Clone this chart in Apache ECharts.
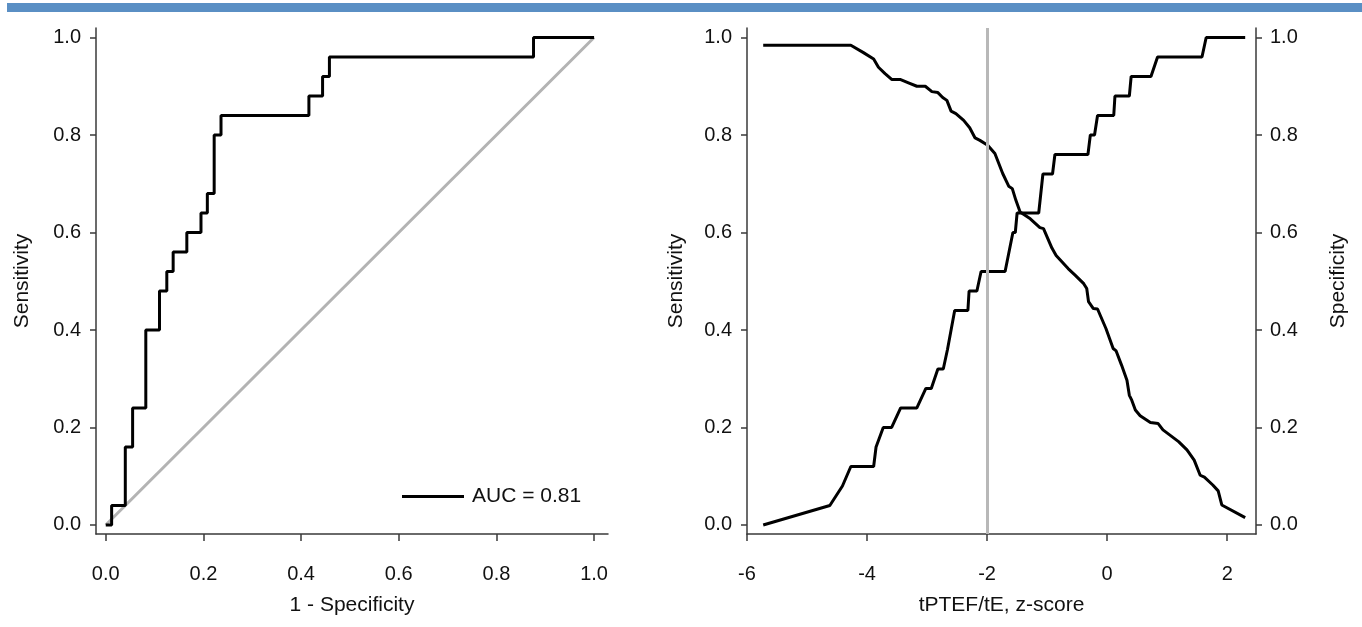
<!DOCTYPE html>
<html>
<head>
<meta charset="utf-8">
<script src="https://cdn.jsdelivr.net/npm/echarts@6/dist/echarts.min.js"></script>
<style>
html,body{margin:0;padding:0;background:#fff;}
#c{width:1362px;height:627px;}
</style>
</head>
<body>
<div id="c"></div>
<script>
// ---- Data ----
const tickLabelsProb = [0, 0.2, 0.4, 0.6, 0.8, 1.0];
const tickLabelsZ = [-6, -4, -2, 0, 2];

// ROC curve (1 - specificity, sensitivity), step points
const rocFpr = [0, 0.012, 0.04, 0.055, 0.082, 0.11, 0.125, 0.138, 0.166, 0.195, 0.208, 0.222, 0.236, 0.416, 0.444, 0.458, 0.876, 1.0];
const rocTpr = [0, 0.04, 0.16, 0.24, 0.40, 0.48, 0.52, 0.56, 0.60, 0.64, 0.68, 0.80, 0.84, 0.88, 0.92, 0.96, 1.0, 1.0];
const diagX = [0, 1];
const diagY = [0, 1];
const aucLabel = 'AUC = 0.81';

// Sensitivity vs z-score
const sensZ = [-5.73, -4.62, -4.41, -4.27, -3.89, -3.85, -3.73, -3.59, -3.44, -3.17, -3.02, -2.93, -2.82, -2.73, -2.66, -2.54, -2.32, -2.30, -2.17, -2.10, -1.70, -1.57, -1.53, -1.50, -1.14, -1.07, -0.91, -0.87, -0.32, -0.28, -0.21, -0.16, 0.11, 0.13, 0.37, 0.40, 0.73, 0.84, 1.58, 1.65, 2.30];
const sensVal = [0.0, 0.04, 0.08, 0.12, 0.12, 0.16, 0.20, 0.20, 0.24, 0.24, 0.28, 0.28, 0.32, 0.32, 0.36, 0.44, 0.44, 0.48, 0.48, 0.52, 0.52, 0.60, 0.60, 0.64, 0.64, 0.72, 0.72, 0.76, 0.76, 0.80, 0.80, 0.84, 0.84, 0.88, 0.88, 0.92, 0.92, 0.96, 0.96, 1.0, 1.0];

// Specificity vs z-score
const specZ = [-5.73, -4.27, -4.06, -3.89, -3.81, -3.70, -3.59, -3.45, -3.31, -3.17, -3.03, -2.92, -2.82, -2.74, -2.67, -2.60, -2.52, -2.39, -2.29, -2.20, -2.12, -1.99, -1.87, -1.74, -1.64, -1.58, -1.52, -1.45, -1.28, -1.12, -1.06, -0.92, -0.85, -0.65, -0.53, -0.39, -0.34, -0.31, -0.23, -0.16, -0.02, 0.10, 0.15, 0.24, 0.33, 0.37, 0.41, 0.47, 0.55, 0.72, 0.85, 0.93, 1.19, 1.33, 1.45, 1.55, 1.62, 1.76, 1.85, 1.91, 2.30];
const specVal = [0.984, 0.984, 0.969, 0.956, 0.939, 0.926, 0.914, 0.914, 0.907, 0.900, 0.900, 0.889, 0.887, 0.877, 0.871, 0.849, 0.844, 0.830, 0.815, 0.794, 0.789, 0.779, 0.762, 0.721, 0.695, 0.690, 0.666, 0.642, 0.628, 0.610, 0.608, 0.568, 0.553, 0.526, 0.512, 0.495, 0.485, 0.458, 0.444, 0.443, 0.403, 0.362, 0.357, 0.328, 0.297, 0.266, 0.256, 0.236, 0.224, 0.210, 0.208, 0.195, 0.171, 0.154, 0.133, 0.102, 0.098, 0.082, 0.070, 0.041, 0.015];

const cutoffZ = -2;

// ---- Chart ----
const zip = (a, b) => a.map((v, i) => [v, b[i]]);
const FONT = "'Liberation Sans', Arial, sans-serif";
const TXT = '#111';
const AX = '#3a3a3a';
const TICK_FS = 20;
const NAME_FS = 21;

function axisCommon(extra) {
  return Object.assign({
    axisLine: { show: true, onZero: false, lineStyle: { color: AX, width: 1.5 } },
    splitLine: { show: false },
    nameLocation: 'middle',
    nameTextStyle: { color: TXT, fontSize: NAME_FS, fontFamily: FONT },
  }, extra);
}

const probFmt = v => (Math.round(v * 10) / 10).toFixed(1);

const chart = echarts.init(document.getElementById('c'), null, { renderer: 'canvas' });
chart.setOption({
  animation: false,
  backgroundColor: '#fff',
  graphic: [{
    type: 'rect', left: 7, top: 3, shape: { width: 1355, height: 9 },
    style: { fill: '#5a8fc4' }, silent: true
  }],
  grid: [
    { left: 96, right: 754, top: 28, bottom: 93 },
    { left: 747, right: 106, top: 28, bottom: 93 }
  ],
  xAxis: [
    axisCommon({
      type: 'value', gridIndex: 0, min: -0.02, max: 1.0285,
      name: '1 - Specificity', nameGap: 61,
      axisTick: { show: true, length: 7, customValues: tickLabelsProb, lineStyle: { color: AX, width: 1.5 } },
      axisLabel: { customValues: tickLabelsProb, formatter: probFmt, margin: 30, color: TXT, fontSize: TICK_FS, fontFamily: FONT }
    }),
    axisCommon({
      type: 'value', gridIndex: 1, min: -6, max: 2.48,
      name: 'tPTEF/tE, z-score', nameGap: 61,
      axisTick: { show: true, length: 7, customValues: tickLabelsZ, lineStyle: { color: AX, width: 1.5 } },
      axisLabel: { customValues: tickLabelsZ, margin: 30, color: TXT, fontSize: TICK_FS, fontFamily: FONT }
    })
  ],
  yAxis: [
    axisCommon({
      type: 'value', gridIndex: 0, min: -0.0185, max: 1.0195,
      name: 'Sensitivity', nameGap: 63, nameRotate: 90,
      axisTick: { show: true, length: 6, customValues: tickLabelsProb, lineStyle: { color: AX, width: 1.5 } },
      axisLabel: { customValues: tickLabelsProb, formatter: probFmt, margin: 15, color: TXT, fontSize: TICK_FS, fontFamily: FONT }
    }),
    axisCommon({
      type: 'value', gridIndex: 1, position: 'left', min: -0.0185, max: 1.0195,
      name: 'Sensitivity', nameGap: 60, nameRotate: 90,
      axisTick: { show: true, length: 6, customValues: tickLabelsProb, lineStyle: { color: AX, width: 1.5 } },
      axisLabel: { customValues: tickLabelsProb, formatter: probFmt, margin: 15, color: TXT, fontSize: TICK_FS, fontFamily: FONT }
    }),
    axisCommon({
      type: 'value', gridIndex: 1, position: 'right', min: -0.0185, max: 1.0195,
      name: 'Specificity', nameGap: 72, nameRotate: 90,
      axisTick: { show: true, length: 6, customValues: tickLabelsProb, lineStyle: { color: AX, width: 1.5 } },
      axisLabel: { customValues: tickLabelsProb, formatter: probFmt, margin: 14, color: TXT, fontSize: TICK_FS, fontFamily: FONT }
    })
  ],
  legend: {
    data: [aucLabel],
    left: 397, top: 481,
    itemWidth: 62, itemHeight: 3, itemGap: 10,
    icon: 'rect',
    textStyle: { color: TXT, fontSize: NAME_FS, fontFamily: FONT, padding: [0, 0, 0, 3] }
  },
  series: [
    {
      name: 'diag', type: 'line', xAxisIndex: 0, yAxisIndex: 0,
      data: zip(diagX, diagY), showSymbol: false, silent: true,
      lineStyle: { color: '#b3b3b3', width: 3 }, z: 2
    },
    {
      name: aucLabel, type: 'line', xAxisIndex: 0, yAxisIndex: 0,
      data: zip(rocFpr, rocTpr), step: 'end', showSymbol: false,
      itemStyle: { color: '#000' },
      lineStyle: { color: '#000', width: 3 }, z: 3
    },
    {
      name: 'cutoff', type: 'line', xAxisIndex: 1, yAxisIndex: 1,
      data: [], showSymbol: false,
      markLine: {
        silent: true, symbol: ['none', 'none'], label: { show: false },
        lineStyle: { color: '#b8b8b8', width: 3, type: 'solid' },
        data: [{ xAxis: cutoffZ }]
      }, z: 2
    },
    {
      name: 'Sensitivity', type: 'line', xAxisIndex: 1, yAxisIndex: 1,
      data: zip(sensZ, sensVal), showSymbol: false,
      lineStyle: { color: '#000', width: 3 }, z: 3
    },
    {
      name: 'Specificity', type: 'line', xAxisIndex: 1, yAxisIndex: 2,
      data: zip(specZ, specVal), showSymbol: false,
      lineStyle: { color: '#000', width: 3 }, z: 3
    }
  ]
});
</script>
</body>
</html>
